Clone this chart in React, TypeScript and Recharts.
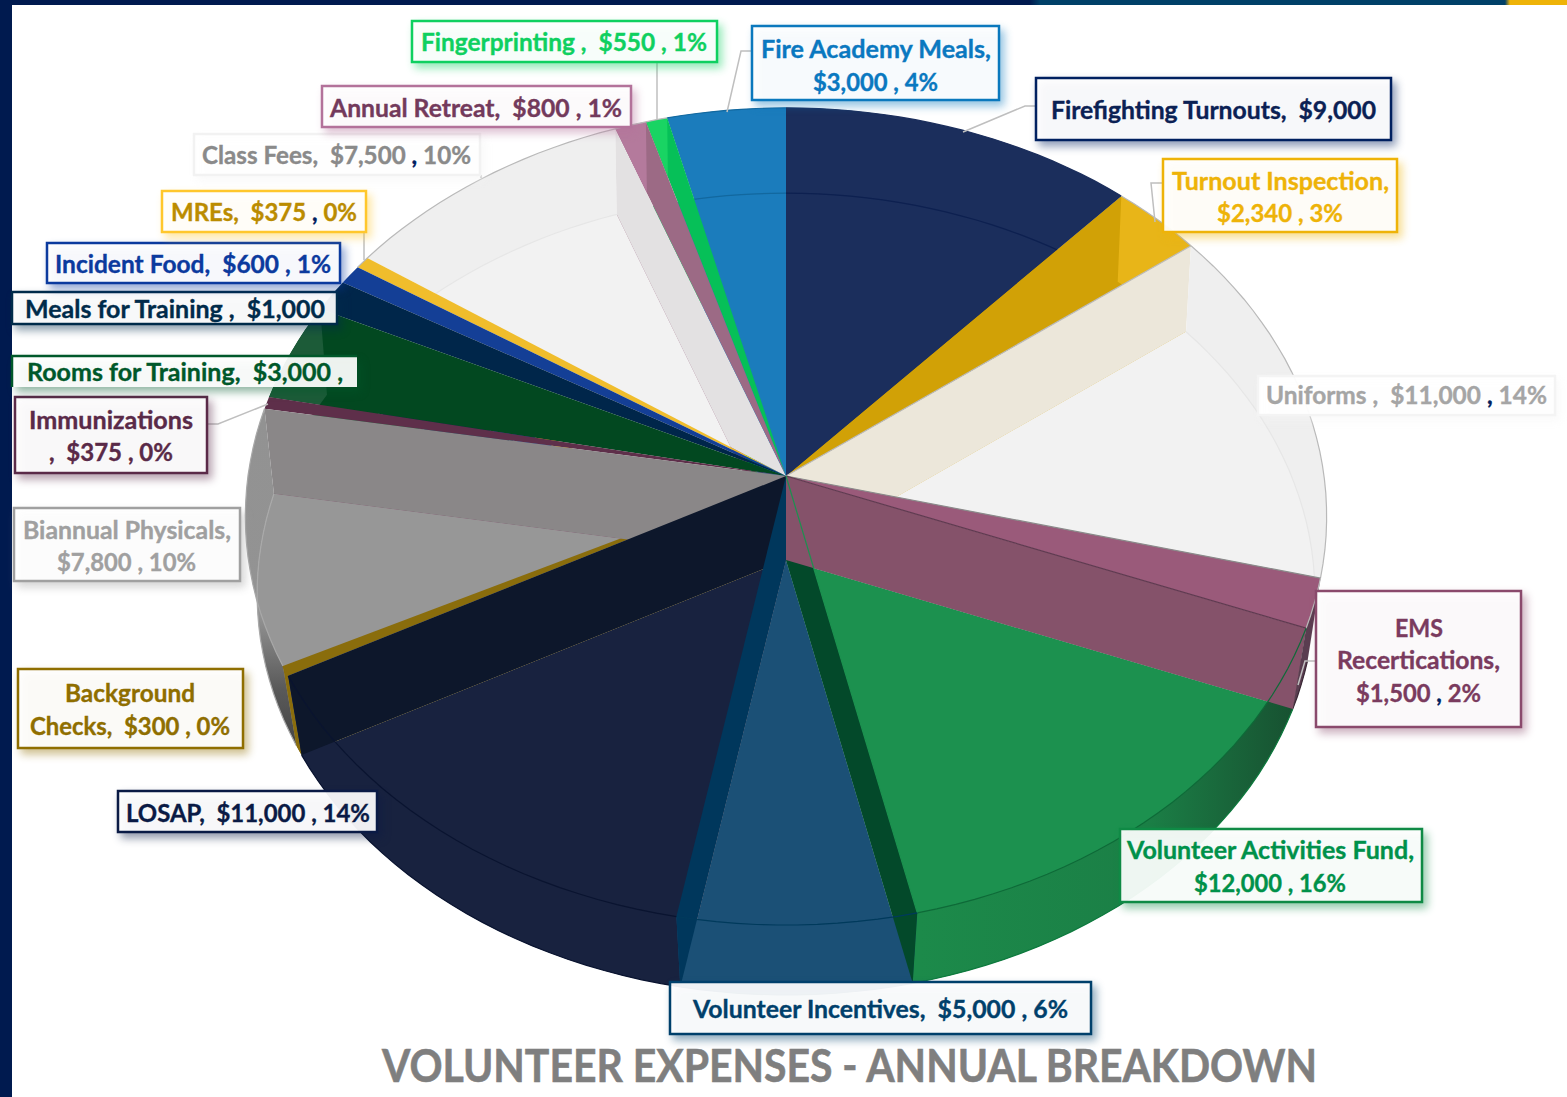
import React from 'react';
import { PieChart, Pie } from 'recharts';

const categories = [
  'Firefighting Turnouts', 'Turnout Inspection', 'Uniforms', 'EMS Recertications',
  'Volunteer Activities Fund', 'Volunteer Incentives', 'LOSAP', 'Background Checks',
  'Biannual Physicals', 'Immunizations', 'Rooms for Training', 'Meals for Training',
  'Incident Food', 'MREs', 'Class Fees', 'Annual Retreat', 'Fingerprinting', 'Fire Academy Meals',
];
const amounts = [9000, 2340, 11000, 1500, 12000, 5000, 11000, 300, 7800, 375, 3000, 1000, 600, 375, 7500, 800, 550, 3000];

const rows = categories.map((name, i) => ({ name, value: amounts[i], idx: i }));
const rowsBackwards = [...rows].reverse();

// colours per slice, same order as categories
const faceColors = ['#1b2e5c', '#d1a106', '#f2f2f2', '#85526a', '#1c914f', '#1b5076', '#18223f', '#8a6d0c', '#979797', '#5e2f4a', '#024820', '#00264a', '#143f96', '#f0bd2c', '#f2f2f2', '#9c6a85', '#06c058', '#1b7cbc'];
const wedgeColors = ['#1b2e5c', '#d1a106', null, '#9a5a7a', null, null, null, '#8a6d0c', null, '#5e2f4a', '#024820', '#00264a', '#143f96', '#f0bd2c', null, '#9c6a85', '#06c058', '#1b7cbc'];
const wallColors = ['#1b2e5c', '#e8b518', '#efefef', '#5a3d50', 'url(#vafWall)', '#1b5076', '#18223f', '#8a6d0c', 'url(#biannualWall)', null, '#1c5b38', null, null, null, '#efefef', '#b47a9c', '#19d463', '#1b7cbc'];
const bandColors = [null, null, null, '#85526a', '#03492a', '#00375c', '#0d172b', null, '#8a8788', null, null, null, null, null, null, null, null, null];
const topArcColors = ['#1b2e5c', '#b9b9b9', '#b9b9b9', '#b9b9b9', '#0e6a38', '#003a5c', '#0a1430', '#8a6d0c', '#a8a8a8', null, null, null, null, '#b9b9b9', '#b9b9b9', '#b9b9b9', '#b9b9b9', '#12689f'];
const bottomArcColors = ['#0d2050', null, '#e6e6e6', '#3a2a36', '#0e7a3e', '#103a5a', '#0a1430', null, '#a9a9a9', null, null, null, null, null, '#e6e6e6', null, null, '#12689f'];
const edgeColors = [null, '#bdbdbd', '#8a8a8a', '#5f3a50', '#1c914f', null, null, null, null, null, null, null, null, null, null, null, null, null];

const BEIGE_WALL = '#ece7da';
const CLASS_WALL = '#e3e1e2';

// label text, one entry per line
const labelText = [
  ['Firefighting Turnouts,  $9,000'],
  ['Turnout Inspection,', '$2,340 , 3%'],
  ['Uniforms ,  $11,000 , 14%'],
  ['EMS', 'Recertications,', '$1,500 , 2%'],
  ['Volunteer Activities Fund,', '$12,000 , 16%'],
  ['Volunteer Incentives,  $5,000 , 6%'],
  ['LOSAP,  $11,000 , 14%'],
  ['Background', 'Checks,  $300 , 0%'],
  ['Biannual Physicals,', '$7,800 , 10%'],
  ['Immunizations', ',  $375 , 0%'],
  ['Rooms for Training,  $3,000 ,'],
  ['Meals for Training ,  $1,000'],
  ['Incident Food,  $600 , 1%'],
  ['MREs,  $375 , 0%'],
  ['Class Fees,  $7,500 , 10%'],
  ['Annual Retreat,  $800 , 1%'],
  ['Fingerprinting ,  $550 , 1%'],
  ['Fire Academy Meals,', '$3,000 , 4%'],
];

// placement of the boxes: [x, y, w, h], then [x1, x2, baseline] per line
const labelLayout: any[] = [
  { box: [1036, 78, 355, 62], text: [[1051, 1376, 119]], border: '#002060', color: '#0b2154', leader: '963,132 1025,106 1036,106' },
  { box: [1163, 159, 234, 73], text: [[1172, 1389, 190], [1217, 1343, 222]], border: '#eeb308', color: '#eeb308', leader: '1155,222 1151,183 1163,183' },
  { box: [1258, 376, 297, 39], text: [[1266, 1547, 404]], border: '#f4f4f4', color: '#a5a5a5', comma: true },
  { box: [1316, 591, 205, 136], text: [[1395, 1443, 637], [1337, 1500, 669], [1356, 1481, 702]], border: '#8a4a6c', color: '#7a3b5e', comma: true, leader: '1316,661 1305,661 1298,685' },
  { box: [1120, 829, 302, 73], text: [[1127, 1414, 859], [1194, 1346, 892]], border: '#0f8a45', color: '#00914a' },
  { box: [670, 982, 421, 52], text: [[693, 1068, 1018]], border: '#00406b', color: '#00406b' },
  { box: [118, 791, 259, 41], text: [[126, 370, 822]], border: '#0a1a45', color: '#0a1a45' },
  { box: [18, 669, 225, 79], text: [[65, 195, 702], [30, 230, 735]], border: '#8f6e00', color: '#8f6e00' },
  { box: [14, 508, 226, 73], text: [[23, 231, 539], [57, 196, 571]], border: '#a0a0a0', color: '#a0a0a0' },
  { box: [15, 397, 192, 76], text: [[29, 193, 429], [49, 173, 461]], border: '#5a2a48', color: '#5a2a48', leader: '207,424 218,424 268,404' },
  { box: [12, 356, 345, 31], text: [[27, 343, 381]], border: '#00582a', color: '#00582a', open: true },
  { box: [12, 292, 325, 32], text: [[25, 325, 318]], border: '#002b4a', color: '#002b4a' },
  { box: [47, 243, 293, 40], text: [[55, 331, 273]], border: '#0b3a9e', color: '#0b3a9e' },
  { box: [162, 191, 204, 41], text: [[171, 357, 221]], border: '#ffc72c', color: '#bb8c00', comma: true, leader: '364,232 364,260' },
  { box: [194, 134, 286, 41], text: [[202, 471, 164]], border: '#f2f2f2', color: '#8a8a8a', comma: true, leader: '481,175 481,178' },
  { box: [322, 86, 309, 41], text: [[330, 622, 117]], border: '#b3729a', color: '#733a5c' },
  { box: [412, 21, 305, 41], text: [[421, 707, 51]], border: '#0fd060', color: '#0fd060', leader: '657,120 657,62' },
  { box: [752, 26, 247, 74], text: [[761, 991, 58], [813, 938, 91]], border: '#0a78bd', color: '#0a78c0', leader: '727,112 741,51 752,51' },
];

// the tilted disc seen in perspective: upper rim and lower rim
const TOP = { cy: 476, a: 538, b: 404.6, p: 0.099 };
const BOTTOM = { cy: 560, a: 527, b: 398, p: 0.085 };
const CX = 786;

const project = (disc: any, theta: number) => {
  const t = (theta * Math.PI) / 180;
  const d = 1 + disc.p * Math.cos(t);
  return [CX + (disc.a * Math.sin(t)) / d, disc.cy - (disc.b * Math.cos(t)) / d];
};

const angles = (props: any) => {
  const a = 90 - props.startAngle;
  const b = 90 - props.endAngle;
  return [Math.min(a, b), Math.max(a, b)];
};

const arcPoints = (disc: any, from: number, to: number) => {
  const pts: number[][] = [];
  const n = Math.max(2, Math.ceil((to - from) / 2));
  for (let i = 0; i <= n; i++) pts.push(project(disc, from + ((to - from) * i) / n));
  return pts;
};

const toPath = (pts: number[][], close = true) =>
  pts.map((p, i) => `${i ? 'L' : 'M'}${p[0].toFixed(1)},${p[1].toFixed(1)}`).join('') + (close ? 'Z' : '');

const apex = (disc: any) => [CX, disc.cy];
const wallQuad = (theta: number) => [apex(TOP), project(TOP, theta), project(BOTTOM, theta), apex(BOTTOM)];

const FaceShape = (props: any) => {
  const [from, to] = angles(props);
  const i = props.payload?.idx ?? props.idx;
  return <path d={toPath([apex(BOTTOM), ...arcPoints(BOTTOM, from, to)])} fill={faceColors[i]} />;
};

// the wall between Turnout Inspection and Uniforms sits under everything else
const BeigeShape = (props: any) => {
  const [, to] = angles(props);
  const i = props.payload?.idx ?? props.idx;
  if (i !== 1) return <g />;
  return <path d={toPath(wallQuad(to))} fill={BEIGE_WALL} />;
};

const RimShape = (props: any) => {
  const [from, to] = angles(props);
  const i = props.payload?.idx ?? props.idx;
  const upper = arcPoints(TOP, from, to);
  const lower = arcPoints(BOTTOM, from, to);
  const wedge = toPath([apex(TOP), ...upper]);
  const mid = ((from + to) / 2) * (Math.PI / 180);
  const atBack = Math.cos(mid) > 0;
  return (
    <g>
      <clipPath id={`wedge-${i}`}>
        <path d={wedge} />
      </clipPath>
      {wedgeColors[i] && <path d={wedge} fill={wedgeColors[i] as string} />}
      <g clipPath={atBack ? `url(#wedge-${i})` : undefined}>
        {wallColors[i] && <path d={toPath([...upper, ...[...lower].reverse()])} fill={wallColors[i] as string} />}
        {bottomArcColors[i] && <path d={toPath(lower, false)} fill="none" strokeWidth={1.2} stroke={bottomArcColors[i] as string} />}
        {i === 14 && <path d={toPath(wallQuad(to))} fill={CLASS_WALL} />}
      </g>
    </g>
  );
};

const BandShape = (props: any) => {
  const [, to] = angles(props);
  const i = props.payload?.idx ?? props.idx;
  if (!bandColors[i]) return <g />;
  return <path d={toPath(wallQuad(to))} fill={bandColors[i] as string} />;
};

const LineShape = (props: any) => {
  const [from, to] = angles(props);
  const i = props.payload?.idx ?? props.idx;
  return (
    <g fill="none" strokeWidth={1.2}>
      {topArcColors[i] && <path d={toPath(arcPoints(TOP, from, to), false)} stroke={topArcColors[i] as string} />}
      {edgeColors[i] && <path d={toPath([apex(TOP), project(TOP, to)], false)} stroke={edgeColors[i] as string} />}
    </g>
  );
};

const BoxLabel = (props: any) => {
  const i = props.index;
  const l = labelLayout[i];
  const [x, y, w, h] = l.box;
  return (
    <g>
      {l.leader && <polyline points={l.leader} fill="none" stroke="#bfbfbf" strokeWidth={1.5} />}
      <rect
        x={x} y={y} width={w} height={h}
        fill="#ffffff" fillOpacity={0.93}
        stroke={l.open ? 'none' : l.border} strokeWidth={2.5}
        style={{ filter: `drop-shadow(4px 5px 4px ${l.border}77)` }}
      />
      {l.open && <polyline points={`${x},${y + h} ${x},${y} ${x + w},${y}`} fill="none" stroke={l.border} strokeWidth={2.5} />}
      {labelText[i].map((line, k) => {
        const [x1, x2, base] = l.text[k];
        const cut = l.comma ? line.lastIndexOf(' , ') : -1;
        return (
          <text
            key={k} x={x1} y={base}
            textLength={x2 - x1} lengthAdjust="spacingAndGlyphs"
            fill={l.color} stroke={l.color} strokeWidth={0.35} fontFamily="Lato" fontWeight={700} fontSize={24}
            style={{ whiteSpace: 'pre' }}
          >
            {cut < 0 ? line : (
              <>
                {line.slice(0, cut + 1)}
                <tspan fill="#002060" stroke="#002060">,</tspan>
                {line.slice(cut + 2)}
              </>
            )}
          </text>
        );
      })}
    </g>
  );
};

const pieProps: any = {
  dataKey: 'value',
  nameKey: 'name',
  cx: CX,
  cy: TOP.cy,
  outerRadius: 400,
  stroke: 'none',
  labelLine: false,
  isAnimationActive: false,
};

export default function App() {
  return (
    <div style={{ position: 'absolute', left: 0, top: 0, width: 1567, height: 1097, background: '#fff', overflow: 'hidden' }}>
      <div style={{ position: 'absolute', left: 0, top: 0, width: 12, height: 1097, background: '#001a4f' }} />
      <div
        style={{
          position: 'absolute', left: 0, top: 0, width: 1567, height: 5,
          background: 'linear-gradient(90deg, #001a4f 0, #001a4f 1030px, #004068 1040px, #004068 1505px, #eeb308 1510px)',
        }}
      />
      <div style={{ position: 'absolute', left: 0, top: 0 }}>
        <PieChart width={1567} height={1097} margin={{ top: 0, right: 0, bottom: 0, left: 0 }}>
          <defs>
            <linearGradient id="vafWall" gradientUnits="userSpaceOnUse" x1="920" y1="0" x2="1300" y2="0">
              <stop offset="0" stopColor="#1c8a4a" />
              <stop offset="0.6" stopColor="#1b7f46" />
              <stop offset="1" stopColor="#174f30" />
            </linearGradient>
            <linearGradient id="biannualWall" gradientUnits="userSpaceOnUse" x1="0" y1="400" x2="0" y2="760">
              <stop offset="0" stopColor="#929292" />
              <stop offset="0.6" stopColor="#939393" />
              <stop offset="0.8" stopColor="#5a5a5a" />
              <stop offset="1" stopColor="#404040" />
            </linearGradient>
          </defs>
          <Pie {...pieProps} data={rows} startAngle={90} endAngle={-270} shape={FaceShape} />
          <Pie {...pieProps} data={rows} startAngle={90} endAngle={-270} shape={BeigeShape} />
          <Pie {...pieProps} data={rowsBackwards} startAngle={-270} endAngle={90} shape={RimShape} />
          <Pie {...pieProps} data={rowsBackwards} startAngle={-270} endAngle={90} shape={BandShape} />
          <Pie {...pieProps} data={rows} startAngle={90} endAngle={-270} shape={LineShape} label={BoxLabel} />
          <text
            x={382} y={1082} textLength={935} lengthAdjust="spacingAndGlyphs"
            fill="#7f7f7f" stroke="#7f7f7f" strokeWidth={0.6} fontFamily="Lato" fontWeight={700} fontSize={46}
          >
            VOLUNTEER EXPENSES - ANNUAL BREAKDOWN
          </text>
        </PieChart>
      </div>
    </div>
  );
}
